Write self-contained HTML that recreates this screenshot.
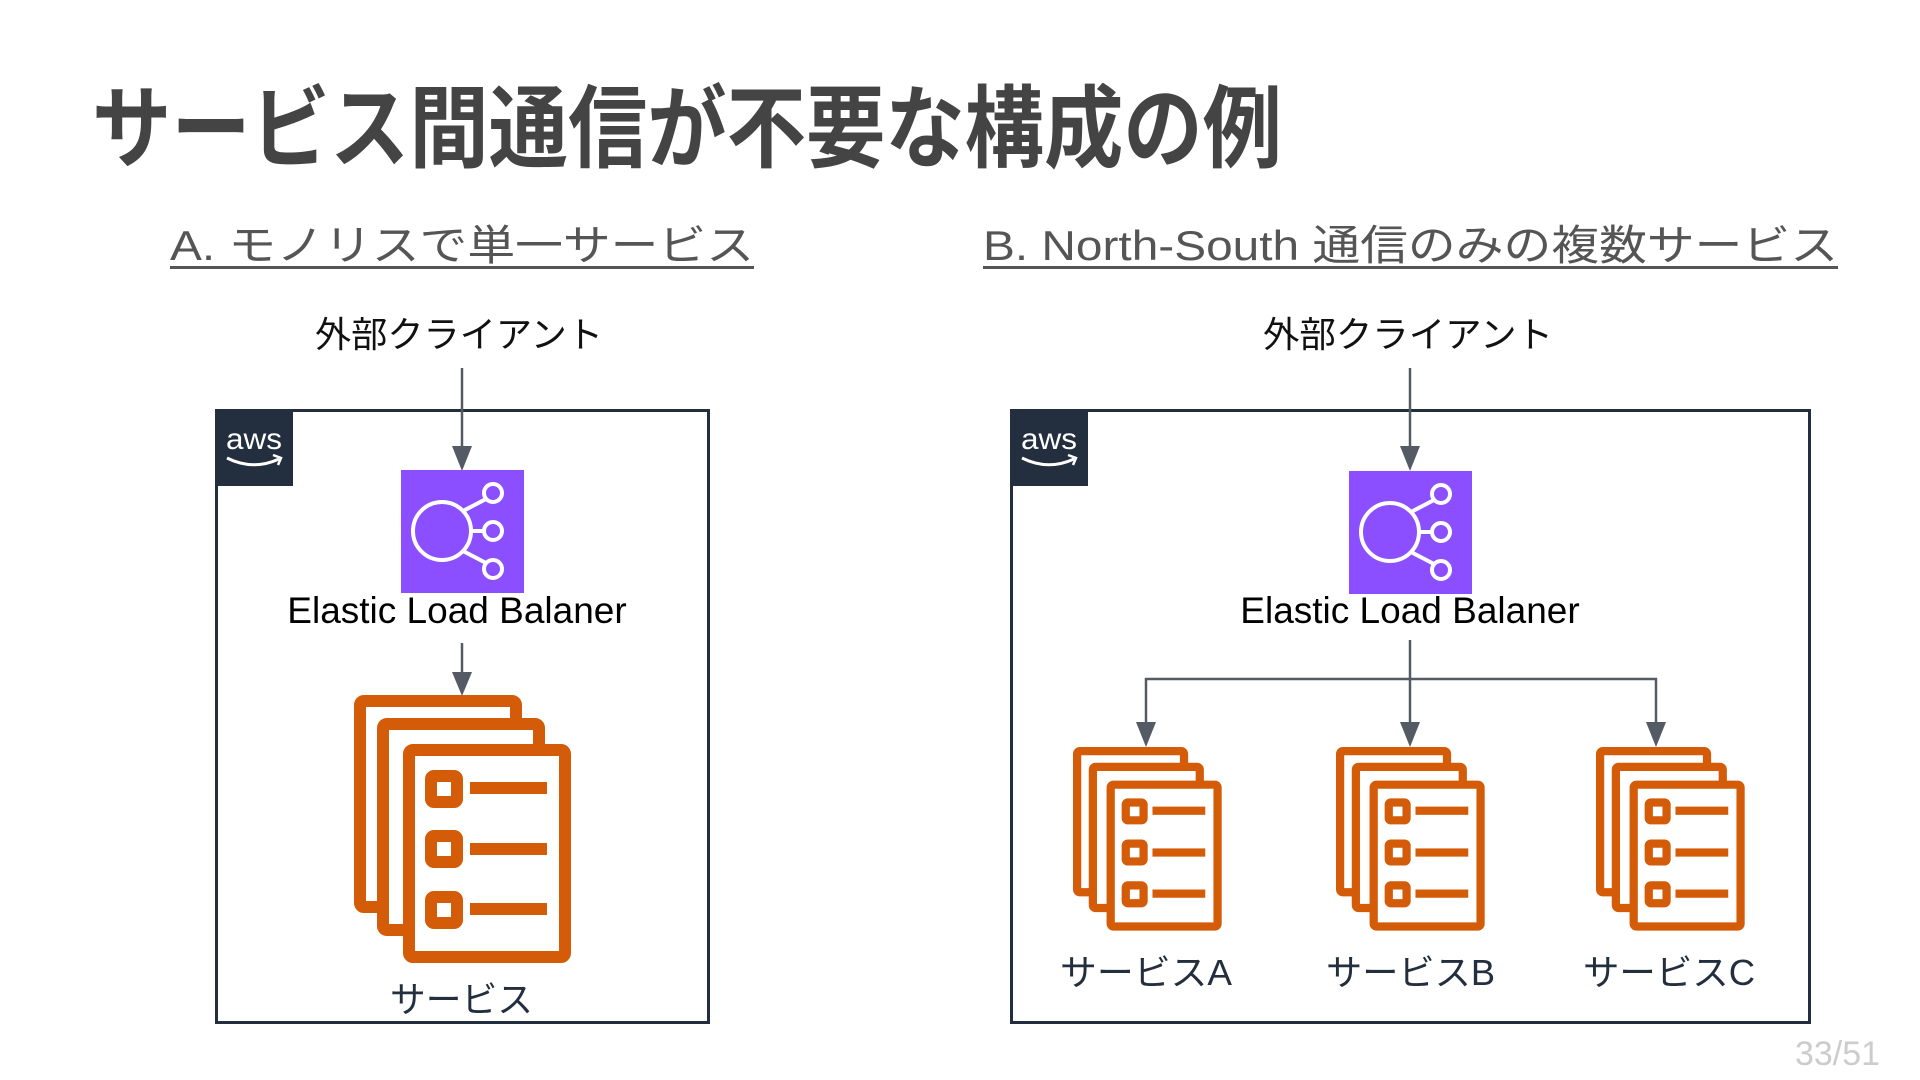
<!DOCTYPE html>
<html><head><meta charset="utf-8"><style>
html,body{margin:0;padding:0;background:#fff;width:1920px;height:1080px;overflow:hidden}
svg{display:block}
</style></head><body>
<svg width="1920" height="1080" viewBox="0 0 1920 1080" xmlns="http://www.w3.org/2000/svg">
<defs>
<g id="svc">
  <rect x="6" y="6" width="156" height="206" rx="4" fill="#fff" stroke="#D45B07" stroke-width="12"/>
  <rect x="29" y="29" width="156" height="206" rx="4" fill="#fff" stroke="#D45B07" stroke-width="12"/>
  <rect x="55" y="55" width="156" height="207" rx="4" fill="#fff" stroke="#D45B07" stroke-width="12"/>
  <rect x="77" y="81" width="26" height="26" rx="3" fill="none" stroke="#D45B07" stroke-width="12"/>
  <rect x="77" y="141" width="26" height="26" rx="3" fill="none" stroke="#D45B07" stroke-width="12"/>
  <rect x="77" y="202" width="26" height="26" rx="3" fill="none" stroke="#D45B07" stroke-width="12"/>
  <rect x="116" y="87" width="77" height="12" fill="#D45B07"/>
  <rect x="116" y="148" width="77" height="12" fill="#D45B07"/>
  <rect x="116" y="208" width="77" height="12" fill="#D45B07"/>
</g>
<g id="elb">
  <rect x="0" y="0" width="123" height="123" fill="#8C4FFF"/>
  <g fill="none" stroke="#fff" stroke-width="4">
    <circle cx="41" cy="61" r="29"/>
    <circle cx="92" cy="23" r="9"/>
    <circle cx="92" cy="61" r="9"/>
    <circle cx="92" cy="99" r="9"/>
    <line x1="70" y1="61" x2="83" y2="61"/>
    <line x1="62" y1="41" x2="85" y2="29"/>
    <line x1="62" y1="81" x2="85" y2="93"/>
  </g>
</g>
<g id="aws">
  <rect x="0" y="0" width="78" height="77" fill="#232F3E"/>
  <text x="39" y="40" fill="#fff" font-family="Liberation Sans, sans-serif" font-size="30" text-anchor="middle" textLength="56" lengthAdjust="spacingAndGlyphs">aws</text>
  <path d="M12 49 Q38 62 64 50" fill="none" stroke="#fff" stroke-width="3"/>
  <path d="M58 46 L66 49 L63 56" fill="none" stroke="#fff" stroke-width="2.5"/>
</g>
</defs>

<text x="92" y="160" fill="#444" font-family="Liberation Sans, 'Noto Sans CJK JP', sans-serif" font-weight="bold" font-size="90" textLength="1190" lengthAdjust="spacingAndGlyphs">サービス間通信が不要な構成の例</text>

<g font-family="Liberation Sans, 'Noto Sans CJK JP', sans-serif" fill="#555">
  <text x="170" y="260" font-size="42" textLength="584" lengthAdjust="spacingAndGlyphs">A. モノリスで単一サービス</text>
  <rect x="170" y="266" width="584" height="3" fill="#555"/>
  <text x="983" y="260" font-size="42" textLength="855" lengthAdjust="spacingAndGlyphs">B. North-South 通信のみの複数サービス</text>
  <rect x="983" y="266" width="855" height="3" fill="#555"/>
</g>

<g font-family="Liberation Sans, 'Noto Sans CJK JP', sans-serif" fill="#111" font-size="36">
  <text x="315" y="347" textLength="288" lengthAdjust="spacingAndGlyphs">外部クライアント</text>
  <text x="1263" y="347" textLength="290" lengthAdjust="spacingAndGlyphs">外部クライアント</text>
</g>

<rect x="216.5" y="410.5" width="492" height="612" fill="none" stroke="#232F3E" stroke-width="3"/>
<rect x="1011.5" y="410.5" width="798" height="612" fill="none" stroke="#232F3E" stroke-width="3"/>
<use href="#aws" x="215" y="409"/>
<use href="#aws" x="1010" y="409"/>

<g stroke="#545B64" stroke-width="2.5" fill="none">
  <line x1="462" y1="368" x2="462" y2="447"/>
  <line x1="462" y1="643" x2="462" y2="673"/>
  <line x1="1410" y1="368" x2="1410" y2="447"/>
  <line x1="1410" y1="640" x2="1410" y2="724"/>
  <polyline points="1146,724 1146,679 1656,679 1656,724"/>
</g>
<g fill="#545B64">
  <polygon points="452,446 472,446 462,471"/>
  <polygon points="452,672 472,672 462,696"/>
  <polygon points="1400,446 1420,446 1410,471"/>
  <polygon points="1136,722 1156,722 1146,747"/>
  <polygon points="1400,722 1420,722 1410,747"/>
  <polygon points="1646,722 1666,722 1656,747"/>
</g>

<use href="#elb" x="401" y="470"/>
<use href="#elb" x="1349" y="471"/>
<g font-family="Liberation Sans, sans-serif" fill="#000" font-size="37" text-anchor="middle">
  <text x="457" y="623">Elastic Load Balaner</text>
  <text x="1410" y="623">Elastic Load Balaner</text>
</g>

<use href="#svc" transform="translate(354,695)"/>
<use href="#svc" transform="translate(1073,747) scale(0.6852)"/>
<use href="#svc" transform="translate(1336,747) scale(0.6852)"/>
<use href="#svc" transform="translate(1596,747) scale(0.6852)"/>

<g font-family="Liberation Sans, 'Noto Sans CJK JP', sans-serif" fill="#232F3E" font-size="36">
  <text x="390" y="1012" textLength="143" lengthAdjust="spacingAndGlyphs">サービス</text>
  <text x="1060" y="985" textLength="172" lengthAdjust="spacingAndGlyphs">サービスA</text>
  <text x="1326" y="985" textLength="169" lengthAdjust="spacingAndGlyphs">サービスB</text>
  <text x="1583" y="985" textLength="172" lengthAdjust="spacingAndGlyphs">サービスC</text>
</g>

<text x="1880" y="1065" fill="#ccc" font-family="Liberation Sans, sans-serif" font-size="34" text-anchor="end" textLength="85" lengthAdjust="spacingAndGlyphs">33/51</text>
</svg>
</body></html>
